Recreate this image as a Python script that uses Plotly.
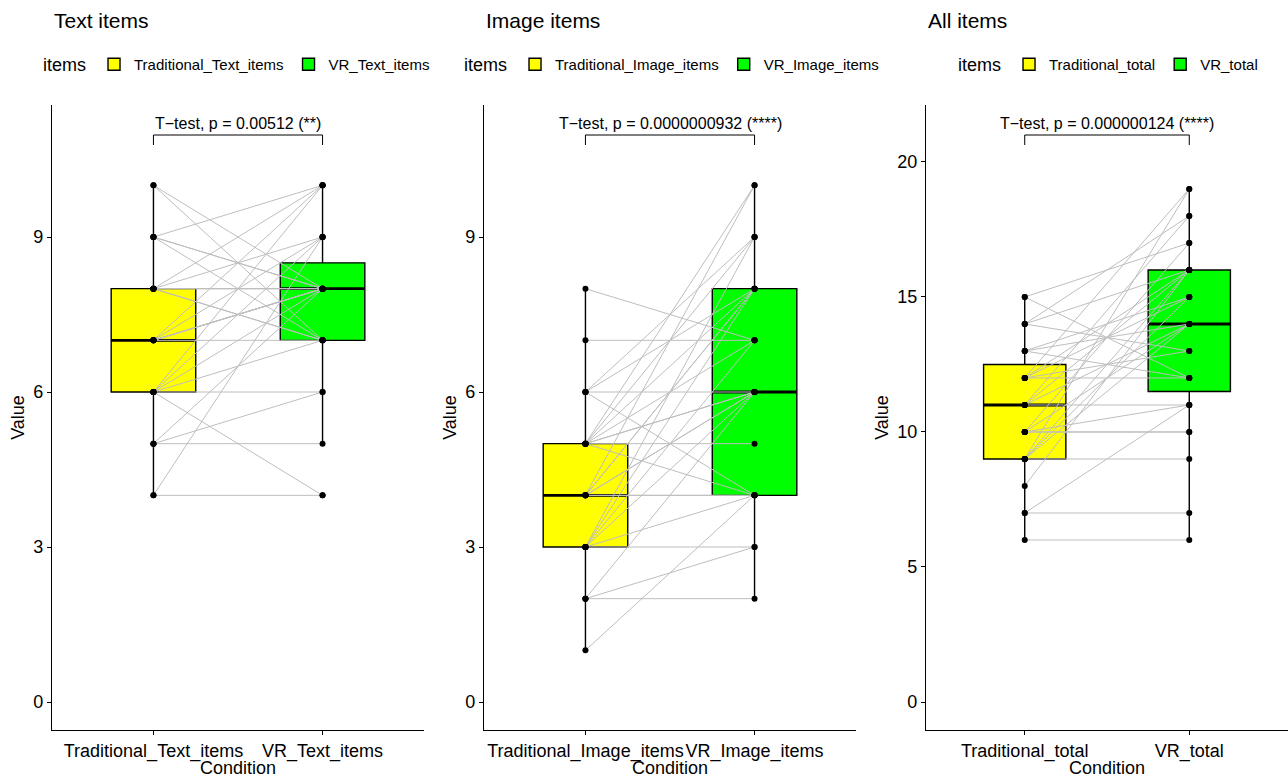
import numpy as np
import plotly.graph_objects as go

# ---------------- data ----------------
titles = ["Text items", "Image items", "All items"]
cat_labels = [
    ["Traditional_Text_items", "VR_Text_items"],
    ["Traditional_Image_items", "VR_Image_items"],
    ["Traditional_total", "VR_total"],
]
p_labels = [
    "T\u2212test, p = 0.00512 (**)",
    "T\u2212test, p = 0.0000000932 (****)",
    "T\u2212test, p = 0.000000124 (****)",
]

text_trad = [4, 4, 5, 5, 5, 6, 6, 6, 6, 6, 6, 7, 7, 7, 7, 7, 7, 7, 8, 8, 8, 8, 8, 8, 8, 9, 9, 9, 9, 10, 10]
text_vr = [4, 9, 5, 6, 8, 4, 6, 7, 8, 9, 10, 7, 8, 8, 8, 8, 9, 10, 7, 8, 8, 8, 9, 10, 7, 10, 8, 8, 7, 7, 8]

image_trad = [1, 2, 2, 2, 3, 3, 3, 3, 3, 3, 4, 4, 4, 4, 4, 4, 4, 5, 5, 5, 5, 5, 5, 5, 5, 6, 6, 6, 6, 7, 8]
image_vr = [4, 2, 3, 6, 3, 4, 6, 8, 9, 7, 4, 4, 6, 6, 8, 8, 10, 4, 5, 6, 7, 8, 9, 10, 6, 4, 6, 8, 9, 7, 7]

total_trad = [6, 7, 7, 8, 9, 9, 9, 9, 9, 10, 10, 10, 10, 10, 11, 11, 11, 11, 12, 12, 12, 12, 12, 13, 13, 13, 14, 14, 14, 15, 15]
total_vr = [6, 7, 11, 16, 9, 14, 15, 16, 19, 10, 10, 11, 14, 17, 11, 14, 16, 18, 12, 13, 15, 16, 19, 12, 14, 15, 13, 16, 18, 12, 17]

y_ticks = [[0, 3, 6, 9], [0, 3, 6, 9], [0, 5, 10, 15, 20]]

panels = [(text_trad, text_vr), (image_trad, image_vr), (total_trad, total_vr)]

# ---------------- layout constants ----------------
W, H = 1288, 777
FONT = "Liberation Sans, Arial, sans-serif"
x_px = [(52, 424), (484, 856), (926, 1288)]
y_dom = [1 - 730 / H, 1 - 105 / H]
y_ranges = [[-0.542, 11.555], [-0.542, 11.555], [-1.037, 22.11]]
legend_x = [41, 462, 956]
colors = ["#FFFF00", "#00FF00"]


def box_stats(v):
    a = np.asarray(v, dtype=float)
    q1, med, q3 = np.percentile(a, [25, 50, 75])
    iqr = q3 - q1
    lf = a[a >= q1 - 1.5 * iqr].min()
    uf = a[a <= q3 + 1.5 * iqr].max()
    return q1, med, q3, lf, uf


fig = go.Figure()
layout = dict(
    width=W, height=H, margin=dict(l=0, r=0, t=0, b=0, autoexpand=False),
    paper_bgcolor="white", plot_bgcolor="white",
    font=dict(family=FONT, color="black", size=15),
    annotations=[], shapes=[],
)

for i, ((trad, vr), labels) in enumerate(zip(panels, cat_labels)):
    k = "" if i == 0 else str(i + 1)
    xa, ya = "x" + k, "y" + k
    leg = "legend" + k
    # boxes
    for j, (vals, lab) in enumerate(zip([trad, vr], labels)):
        q1, med, q3, lf, uf = box_stats(vals)
        fig.add_trace(go.Box(
            x=[j + 1], q1=[q1], median=[med], q3=[q3], lowerfence=[lf], upperfence=[uf],
            width=0.5, whiskerwidth=0, fillcolor=colors[j],
            line=dict(color="black", width=1.4), name=lab, boxpoints=False,
            xaxis=xa, yaxis=ya, legend=leg, showlegend=True, hoverinfo="skip",
        ))
    # thick median lines
    for j, vals in enumerate([trad, vr]):
        med = float(np.median(vals))
        fig.add_trace(go.Scatter(
            x=[j + 1 - 0.25, j + 1 + 0.25], y=[med, med], mode="lines",
            line=dict(color="black", width=2.8), xaxis=xa, yaxis=ya,
            showlegend=False, hoverinfo="skip",
        ))
    # paired lines
    lx, ly = [], []
    for a, b in zip(trad, vr):
        lx += [1, 2, None]
        ly += [a, b, None]
    fig.add_trace(go.Scatter(
        x=lx, y=ly, mode="lines", line=dict(color="#BEBEBE", width=1),
        xaxis=xa, yaxis=ya, showlegend=False, hoverinfo="skip",
    ))
    # points
    fig.add_trace(go.Scatter(
        x=[1] * len(trad) + [2] * len(vr), y=list(trad) + list(vr), mode="markers",
        marker=dict(color="black", size=6), xaxis=xa, yaxis=ya,
        showlegend=False, hoverinfo="skip",
    ))

    x0, x1 = x_px[i]
    layout["xaxis" + k] = dict(
        domain=[x0 / W, min(x1 / W, 1.0)], anchor=ya, range=[0.4, 2.6],
        tickvals=[1, 2], ticktext=labels, showline=True, linecolor="black", linewidth=1.2,
        ticks="outside", ticklen=4, tickcolor="black", showgrid=False, zeroline=False,
        tickfont=dict(size=18, color="black"), tickangle=0, automargin=False,
        fixedrange=True,
    )
    layout["yaxis" + k] = dict(
        domain=y_dom, anchor=xa, range=y_ranges[i], tickvals=y_ticks[i],
        showline=True, linecolor="black", linewidth=1.2, ticks="outside", ticklen=4,
        tickcolor="black", showgrid=False, zeroline=False,
        tickfont=dict(size=18, color="black"), automargin=False,
        title=dict(text="Value", font=dict(size=18), standoff=3),
        fixedrange=True,
    )
    layout[leg] = dict(
        orientation="h", x=legend_x[i] / W, y=1 - 65 / H, xanchor="left", yanchor="middle",
        title=dict(text="items", side="left", font=dict(size=18)),
        font=dict(size=15), bgcolor="rgba(0,0,0,0)", itemwidth=30,
    )
    layout["annotations"].append(dict(
        text=titles[i], xref="paper", yref="paper", x=x0 / W, y=1 - 7 / H,
        xanchor="left", yanchor="top", showarrow=False, font=dict(size=21),
    ))
    layout["annotations"].append(dict(
        text="Condition", xref=xa, yref="paper", x=1.5, y=1 - 768 / H,
        xanchor="center", yanchor="middle", showarrow=False, font=dict(size=18),
    ))
    layout["annotations"].append(dict(
        text=p_labels[i], xref=xa, yref="paper", x=1.5, y=1 - 123 / H,
        xanchor="center", yanchor="middle", showarrow=False, font=dict(size=16),
    ))
    layout["shapes"].append(dict(
        type="path", xref=xa, yref="paper",
        path=f"M 1,{1 - 145 / H} L 1,{1 - 135 / H} L 2,{1 - 135 / H} L 2,{1 - 145 / H}",
        line=dict(color="black", width=1),
    ))

fig.update_layout(**layout)
fig.write_html("out.html", config={"displayModeBar": False},
               post_script="document.body.style.margin='0';")
